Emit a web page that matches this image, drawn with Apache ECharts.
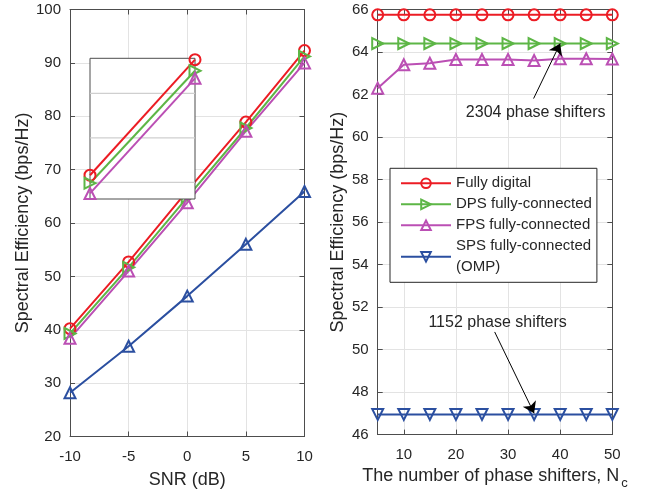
<!DOCTYPE html>
<html><head><meta charset="utf-8">
<script src="https://cdn.jsdelivr.net/npm/echarts@6/dist/echarts.min.js"></script>
<style>html,body{margin:0;padding:0;background:#fff}#c{width:649px;height:495px}</style>
</head><body><div id="c"></div>
<script>
// ---- data ----
const snr = [-10, -5, 0, 5, 10];
const fdSnr  = [40.2, 52.7, 66.0, 78.9, 92.3];
const dpsSnr = [39.3, 51.7, 64.8, 77.8, 91.2];
const fpsSnr = [38.4, 51.0, 63.8, 77.2, 90.0];
const spsSnr = [28.2, 36.9, 46.3, 56.0, 65.9];

const insetX = [0, 1];
const fdInset  = [64.16, 66.76];
const dpsInset = [63.98, 66.51];
const fpsInset = [63.75, 66.34];
const insetGridVals = [64, 65, 66];

const nc = [5, 10, 15, 20, 25, 30, 35, 40, 45, 50];
const fdNc  = [65.75, 65.75, 65.75, 65.75, 65.75, 65.75, 65.75, 65.75, 65.75, 65.75];
const dpsNc = [64.4, 64.4, 64.4, 64.4, 64.4, 64.4, 64.4, 64.4, 64.4, 64.4];
const fpsNc = [62.3, 63.4, 63.47, 63.65, 63.65, 63.65, 63.6, 63.68, 63.68, 63.67];
const spsNc = [46.95, 46.95, 46.95, 46.95, 46.95, 46.95, 46.95, 46.95, 46.95, 46.95];

const rightXTicks = [10, 20, 30, 40, 50];
const names = ['Fully digital', 'DPS fully-connected', 'FPS fully-connected', 'SPS fully-connected\n(OMP)'];

const annotations = [
  { text: '2304 phase shifters', textAt: [35.3, 61.17], from: [34.9, 61.81], to: [40, 64.4] },
  { text: '1152 phase shifters', textAt: [28.0, 51.25], from: [27.44, 50.83], to: [35, 47.0] }
];

// ---- style ----
const RED = '#ec1c24', GREEN = '#5db646', MAG = '#bb4fb4', BLUE = '#2b4fa0';
const AX = '#4d4d4d', TXT = '#262626', GRID = '#e3e3e3';
const FONT = '"Liberation Sans", Arial, Helvetica, sans-serif';

const pairs = (xs, ys) => xs.map((x, i) => [x, ys[i]]);

function ln(name, xi, yi, xs, ys, color, symbol, rot, z) {
  const s = {
    type: 'line', xAxisIndex: xi, yAxisIndex: yi, data: pairs(xs, ys),
    symbol: symbol, symbolRotate: rot, symbolSize: 11, showSymbol: true,
    lineStyle: { color: color, width: 2 },
    itemStyle: { color: 'rgba(255,255,255,0)', borderColor: color, borderWidth: 2 },
    emphasis: { disabled: true }, silent: true, animation: false, z: z || 2
  };
  if (name) s.name = name;
  return s;
}

function boxAxis(type, gi, pos, min, max, interval, extra) {
  const a = {
    type: 'value', gridIndex: gi, position: pos, min: min, max: max,
    axisLine: { show: true, onZero: false, lineStyle: { color: AX, width: 1 } },
    axisTick: { show: true, inside: true, length: 5, lineStyle: { color: AX } },
    axisLabel: { show: false }, splitLine: { show: false }
  };
  if (interval) a.interval = interval;
  return Object.assign(a, extra || {});
}

const chart = echarts.init(document.getElementById('c'), null, { renderer: 'canvas' });

const insetGridSeries = insetGridVals.map(v => ({
  type: 'line', xAxisIndex: 4, yAxisIndex: 4, data: pairs(insetX, [v, v]), z: 10,
  symbol: 'none', silent: true, animation: false, emphasis: { disabled: true },
  lineStyle: { color: '#cfcfcf', width: 1.2 }
}));

const option = {
  animation: false,
  textStyle: { fontFamily: FONT, color: TXT },
  grid: [
    { left: 70, top: 9.5, width: 234.5, height: 427 },
    { left: 377.7, top: 9.5, width: 234.6, height: 427 },
    { left: 90, top: 58.3, width: 105, height: 140.7, show: true, backgroundColor: '#fff',
      borderColor: AX, borderWidth: 1, z: 8 }
  ],
  legend: {
    orient: 'vertical', left: 390, top: 168.3, itemGap: 0, itemWidth: 50, itemHeight: 12,
    padding: [4.5, 5, 4.5, 10], backgroundColor: '#fff', borderColor: TXT, borderWidth: 1,
    textStyle: { fontSize: 15, lineHeight: 21, color: TXT, fontFamily: FONT },
    data: names, selectedMode: false
  },
  xAxis: [
    boxAxis('value', 0, 'bottom', -10, 10, 5, {
      axisLabel: { show: true, fontSize: 15, color: TXT, margin: 13 },
      splitLine: { show: true, lineStyle: { color: GRID, width: 1 } },
      name: 'SNR (dB)', nameLocation: 'middle', nameGap: 35,
      nameTextStyle: { fontSize: 18, color: TXT }
    }),
    boxAxis('value', 0, 'top', -10, 10, 5),
    boxAxis('value', 1, 'bottom', 5, 50, null, {
      axisTick: { show: true, inside: true, length: 5, lineStyle: { color: AX }, customValues: rightXTicks },
      axisLabel: { show: true, fontSize: 15, color: TXT, margin: 13, customValues: rightXTicks },
      splitLine: { show: true, lineStyle: { color: GRID, width: 1 } },
      name: '{a|The number of phase shifters, N}{b|c}', nameLocation: 'middle', nameGap: 25,
      nameTextStyle: { fontSize: 18, color: TXT, rich: {
        a: { fontSize: 18, color: TXT, fontFamily: FONT },
        b: { fontSize: 13, color: TXT, fontFamily: FONT, padding: [14, 0, 0, 2] } } }
    }),
    boxAxis('value', 1, 'top', 5, 50, null, {
      axisTick: { show: true, inside: true, length: 5, lineStyle: { color: AX }, customValues: rightXTicks }
    }),
    { type: 'value', gridIndex: 2, min: 0, max: 1, show: false }
  ],
  yAxis: [
    boxAxis('value', 0, 'left', 20, 100, 10, {
      axisLabel: { show: true, fontSize: 15, color: TXT, margin: 9 },
      splitLine: { show: true, lineStyle: { color: GRID, width: 1 } },
      name: 'Spectral Efficiency (bps/Hz)', nameLocation: 'middle', nameGap: 38,
      nameTextStyle: { fontSize: 18, color: TXT }
    }),
    boxAxis('value', 0, 'right', 20, 100, 10),
    boxAxis('value', 1, 'left', 46, 66, 2, {
      axisLabel: { show: true, fontSize: 15, color: TXT, margin: 9 },
      splitLine: { show: true, lineStyle: { color: GRID, width: 1 } },
      name: 'Spectral Efficiency (bps/Hz)', nameLocation: 'middle', nameGap: 31,
      nameTextStyle: { fontSize: 18, color: TXT }
    }),
    boxAxis('value', 1, 'right', 46, 66, 2),
    { type: 'value', gridIndex: 2, min: 63.625, max: 66.79, show: false }
  ],
  series: [
    // right panel (first so the legend uses these styles)
    ln(names[0], 2, 2, nc, fdNc, RED, 'circle', 0),
    ln(names[1], 2, 2, nc, dpsNc, GREEN, 'triangle', -90),
    ln(names[2], 2, 2, nc, fpsNc, MAG, 'triangle', 0),
    ln(names[3], 2, 2, nc, spsNc, BLUE, 'triangle', 180),
    // left panel
    ln(names[0], 0, 0, snr, fdSnr, RED, 'circle', 0),
    ln(names[1], 0, 0, snr, dpsSnr, GREEN, 'triangle', -90),
    ln(names[2], 0, 0, snr, fpsSnr, MAG, 'triangle', 0),
    ln(names[3], 0, 0, snr, spsSnr, BLUE, 'triangle', 0),
    // inset gridlines
    ...insetGridSeries,
    // inset
    ln(null, 4, 4, insetX, fdInset, RED, 'circle', 0, 11),
    ln(null, 4, 4, insetX, dpsInset, GREEN, 'triangle', -90, 11),
    ln(null, 4, 4, insetX, fpsInset, MAG, 'triangle', 0, 11),
    // annotations
    {
      type: 'line', xAxisIndex: 2, yAxisIndex: 2, data: [], z: 5, silent: true,
      markLine: { silent: true, symbol: ['none', 'arrow'], symbolSize: 11, animation: false,
        label: { show: false }, lineStyle: { color: '#000', width: 1, type: 'solid' },
        data: annotations.map(a => [{ coord: a.from }, { coord: a.to }]) },
      markPoint: { silent: true, symbol: 'circle', symbolSize: 1, animation: false,
        itemStyle: { color: 'rgba(0,0,0,0)' },
        label: { show: true, position: 'inside', formatter: '{b}', fontSize: 16, color: TXT, fontFamily: FONT },
        data: annotations.map(a => ({ name: a.text, coord: a.textAt })) }
    }
  ]
};
chart.setOption(option);
</script></body></html>
